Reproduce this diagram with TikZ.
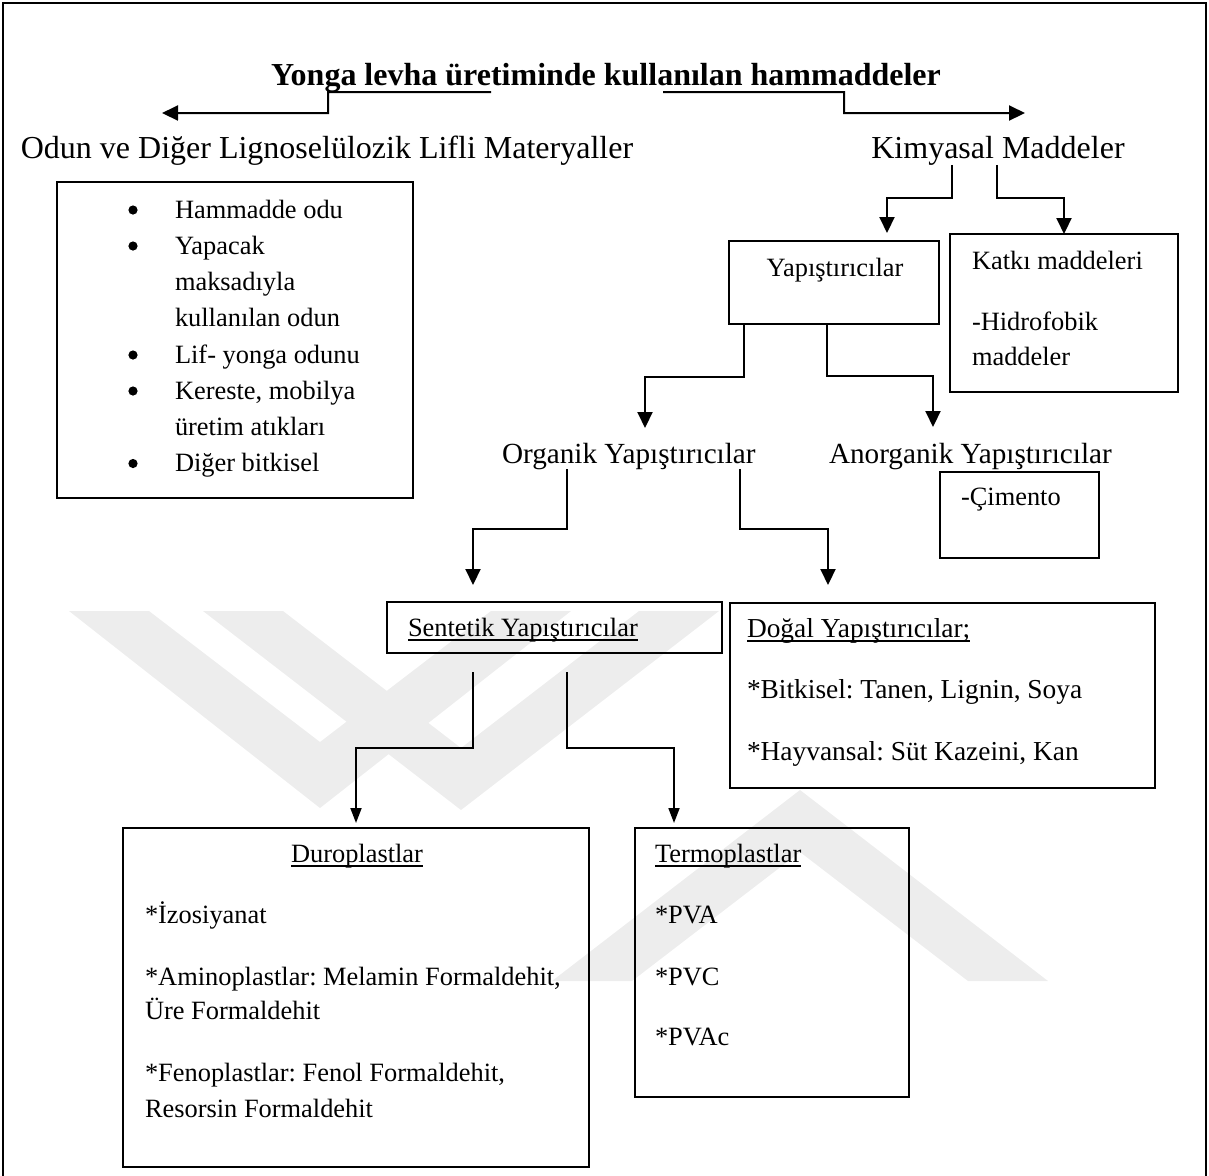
\documentclass[tikz,border=0pt]{standalone}
\usepackage{fontspec}
\setmainfont{Liberation Serif}
\usetikzlibrary{arrows.meta,calc}
\newcommand\myul[1]{\setbox0\hbox{#1}\rlap{\rule[-2.3pt]{\wd0}{0.8pt}}\box0}
\frenchspacing
\begin{document}
\frenchspacing
\begin{tikzpicture}[x=0.5pt,y=-0.5pt,
  box/.style={draw,line width=1.3pt,rectangle,inner sep=0pt,outer sep=0pt,anchor=north west},
  txt/.style={inner sep=0pt,outer sep=0pt,font=\fontsize{13.2}{15}\selectfont},
  txtd/.style={inner sep=0pt,outer sep=0pt,font=\fontsize{13.7}{16}\selectfont},
  big/.style={inner sep=0pt,outer sep=0pt,font=\fontsize{16}{19}\selectfont},
  ttl/.style={inner sep=0pt,outer sep=0pt,font=\bfseries\fontsize{16}{19}\selectfont},
  mid/.style={inner sep=0pt,outer sep=0pt,font=\fontsize{14.6}{17}\selectfont},
  bul/.style={circle,fill,inner sep=0pt,outer sep=0pt,minimum size=4.6pt},
  arr/.style={line width=1pt,-{Triangle[width=7.5pt,length=8pt]}},
  arrs/.style={line width=0.9pt,-{Triangle[width=5.5pt,length=7.5pt]}},
  wm/.style={fill=black!7,draw=none}]
\useasboundingbox (0,0) rectangle (1209,1175);
% watermark
\fill[wm] (69,611) -- (149,611) -- (320,742) -- (491,611) -- (571,611) -- (320,808) -- cycle;
\fill[wm] (203,611) -- (283,611) -- (461,748) -- (639,611) -- (719,611) -- (461,810) -- cycle;
\fill[wm] (552,981) -- (800,790) -- (1048,981) -- (968,981) -- (800,852) -- (632,981) -- cycle;
% frame
\draw[line width=1pt] (3,1180) -- (3,3) -- (1206,3) -- (1206,1180);
% title and level 1
\node[ttl,anchor=base] (title) at (606,85) {Yonga levha üretiminde kullanılan hammaddeler};
\node[big,anchor=base] (odun) at (327,158) {Odun ve Diğer Lignoselülozik Lifli Materyaller};
\node[big,anchor=base] (kim) at (998,158) {Kimyasal Maddeler};
\coordinate (tipL) at (162,113);
\coordinate (tipR) at (1025,113);
\draw[arr] (title.south -| 491,0) -- ++(-163,0) -- ++(0,21) -- (tipL);
\draw[arr] (title.south -| 663,0) -- ++(181,0) -- ++(0,21) -- (tipR);
% left box
\node[box,minimum width=178pt,minimum height=158pt] (lbox) at (57,182) {};
\node[bul] (b1) at (133,210) {};
\node[txt,anchor=base west] (l1) at (175,218) {Hammadde odu};
\node[bul] (b2) at (133,246) {};
\node[txt,anchor=base west] (l2) at (175,254) {Yapacak};
\node[txt,anchor=base west] (l3) at (175,290.5) {maksadıyla};
\node[txt,anchor=base west] (l4) at (175,326.5) {kullanılan odun};
\node[bul] (b3) at (133,355) {};
\node[txt,anchor=base west] (l5) at (175,363) {Lif- yonga odunu};
\node[bul] (b4) at (133,391) {};
\node[txt,anchor=base west] (l6) at (175,399) {Kereste, mobilya};
\node[txt,anchor=base west] (l7) at (175,435) {üretim atıkları};
\node[bul] (b5) at (133,463.5) {};
\node[txt,anchor=base west] (l8) at (175,471.5) {Diğer bitkisel};
% Kimyasal branch
\node[box,minimum width=105pt,minimum height=41.5pt] (yapbox) at (729,241) {};
\node[txt,anchor=base] (yap) at (835,276) {Yapıştırıcılar};
\node[box,minimum width=114pt,minimum height=79pt] (katbox) at (950,234) {};
\node[txt,anchor=base west] (kat1) at (972,269) {Katkı maddeleri};
\node[txt,anchor=base west] (kat2) at (972,330) {-Hidrofobik};
\node[txt,anchor=base west] (kat3) at (972,365) {maddeler};
\draw[arr] (kim.south -| 952,0) |- (887,198) -- ($(yapbox.north -| 887,0)+(0,-8)$);
\draw[arr] (kim.south -| 997,0) |- (1064,198) -- (katbox.north -| 1064,0);
% organik / anorganik
\node[mid,anchor=base west] (org) at (502,463) {Organik Yapıştırıcılar};
\node[mid,anchor=base west] (anorg) at (829,463) {Anorganik Yapıştırıcılar};
\node[box,minimum width=79.5pt,minimum height=43pt] (cimbox) at (940,472) {};
\node[txt,anchor=base west] (cim) at (961,505) {-Çimento};
\coordinate (tipOrg) at (645,428);
\coordinate (tipAn) at (933,427);
\draw[arr] (yapbox.south -| 744,0) |- (645,377) -- (tipOrg);
\draw[arr] (yapbox.south -| 827,0) |- (933,376) -- (tipAn);
% sentetik / dogal
\node[box,minimum width=167.5pt,minimum height=25.5pt] (senbox) at (387,602) {};
\node[txt,anchor=base west] (sen) at (408,636) {\myul{Sentetik Yapıştırıcılar}};
\node[box,minimum width=212.5pt,minimum height=92.5pt] (dogbox) at (730,603) {};
\node[txtd,anchor=base west] (dog1) at (747,637) {\myul{Doğal Yapıştırıcılar;}};
\node[txtd,anchor=base west] (dog2) at (747,698) {*Bitkisel: Tanen, Lignin, Soya};
\node[txtd,anchor=base west] (dog3) at (747,760) {*Hayvansal: Süt Kazeini, Kan};
\draw[arr] (org.south -| 567,0) |- (473,529) -- ($(senbox.north -| 473,0)+(0,-17)$);
\draw[arr] (org.south -| 740,0) |- (828,529) -- ($(dogbox.north -| 828,0)+(0,-18)$);
% duroplastlar / termoplastlar
\node[box,minimum width=233pt,minimum height=169.5pt] (durbox) at (123,828) {};
\node[txt,anchor=base] (dur0) at (357,862) {\myul{Duroplastlar}};
\node[txt,anchor=base west] (dur1) at (145,923) {*İzosiyanat};
\node[txt,anchor=base west] (dur2) at (145,985) {*Aminoplastlar: Melamin Formaldehit,};
\node[txt,anchor=base west] (dur3) at (145,1019) {Üre Formaldehit};
\node[txt,anchor=base west] (dur4) at (145,1081) {*Fenoplastlar: Fenol Formaldehit,};
\node[txt,anchor=base west] (dur5) at (145,1117) {Resorsin Formaldehit};
\node[box,minimum width=137pt,minimum height=134.5pt] (terbox) at (635,828) {};
\node[txt,anchor=base west] (ter0) at (655,862) {\myul{Termoplastlar}};
\node[txt,anchor=base west] (ter1) at (655,923) {*PVA};
\node[txt,anchor=base west] (ter2) at (655,985) {*PVC};
\node[txt,anchor=base west] (ter3) at (655,1045) {*PVAc};
\draw[arrs] ($(senbox.south -| 473,0)+(0,19)$) |- (356,748) -- ($(durbox.north -| 356,0)+(0,-5)$);
\draw[arrs] ($(senbox.south -| 567,0)+(0,19)$) |- (674,748) -- ($(terbox.north -| 674,0)+(0,-5)$);
\end{tikzpicture}
\end{document}
